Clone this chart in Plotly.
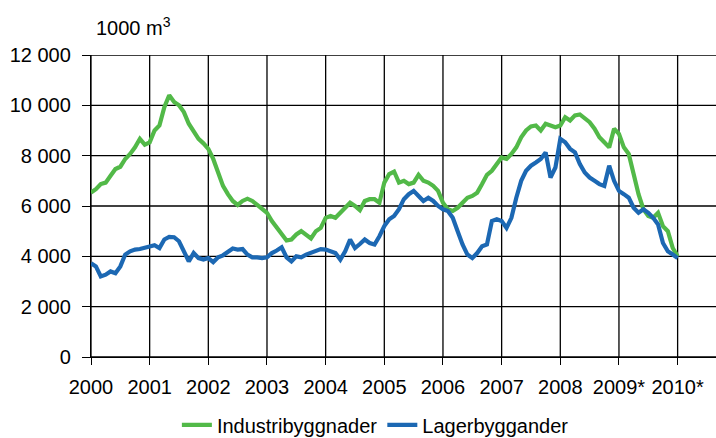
import plotly.graph_objects as go

# Monthly values, January 2000 .. January 2010 (1000 m3)
industri = [
    6530, 6670, 6870, 6930, 7200, 7470, 7560, 7870, 8070, 8330, 8670, 8440,
    8530, 9000, 9200, 9930, 10400, 10130, 10000, 9730, 9270, 9000, 8670, 8490,
    8270, 7870, 7330, 6800, 6470, 6200, 6040, 6200, 6290, 6200, 6040, 5870,
    5730, 5400, 5130, 4870, 4630, 4670, 4870, 5000, 4870, 4710, 5000, 5130,
    5530, 5600, 5530, 5730, 5930, 6130, 6000, 5830, 6200, 6270, 6270, 6130,
    6930, 7270, 7370, 6930, 7000, 6870, 6930, 7240, 7000, 6930, 6800, 6600,
    6130, 5870, 5800, 5930, 6130, 6330, 6400, 6530, 6870, 7240, 7400, 7670,
    7930, 7870, 8070, 8330, 8730, 9000, 9160, 9200, 9000, 9270, 9200, 9130,
    9200, 9530, 9400, 9600, 9640, 9470, 9330, 9070, 8730, 8530, 8330, 9070,
    8870, 8330, 8070, 7270, 6470, 5870, 5600, 5530, 5730, 5200, 5000, 4330,
    4000,
]
lager = [
    3730, 3600, 3200, 3270, 3400, 3330, 3600, 4070, 4200, 4270, 4290, 4330,
    4360, 4440, 4330, 4670, 4770, 4760, 4600, 4200, 3800, 4130, 3930, 3870,
    3930, 3770, 3960, 4040, 4200, 4310, 4270, 4290, 4070, 3960, 3960, 3930,
    3960, 4130, 4230, 4360, 3960, 3800, 4000, 3960, 4070, 4130, 4200, 4290,
    4270, 4200, 4130, 3870, 4200, 4670, 4330, 4490, 4670, 4530, 4470, 4800,
    5200, 5470, 5600, 5870, 6270, 6470, 6600, 6400, 6200, 6330, 6200, 6000,
    5870, 5800, 5530, 5000, 4470, 4070, 3930, 4130, 4400, 4470, 5400, 5470,
    5400, 5130, 5530, 6330, 7000, 7400, 7600, 7730, 7870, 8130, 7130, 7530,
    8670, 8530, 8270, 8130, 7670, 7330, 7130, 7000, 6870, 6800, 7600, 7000,
    6600, 6470, 6330, 5930, 5730, 5870, 5730, 5530, 5270, 4530, 4200, 4070,
    3930,
]
months = list(range(len(industri)))

year_labels = ["2000", "2001", "2002", "2003", "2004", "2005", "2006",
               "2007", "2008", "2009*", "2010*"]
year_pos = [12 * i for i in range(len(year_labels))]
y_vals = [0, 2000, 4000, 6000, 8000, 10000, 12000]
y_labels = ["0", "2 000", "4 000", "6 000", "8 000", "10 000", "12 000"]

FONT = "Liberation Sans, Arial, sans-serif"
GRID = "black"

fig = go.Figure()
fig.add_trace(go.Scatter(x=months, y=industri, mode="lines",
                         name="Industribyggnader",
                         line=dict(color="#52B948", width=4.2)))
fig.add_trace(go.Scatter(x=months, y=lager, mode="lines",
                         name="Lagerbyggander",
                         line=dict(color="#1C68B3", width=4.2)))

# grid lines placed at the axis tick values
shapes = []
for xv in year_pos:
    shapes.append(dict(type="line", xref="x", yref="paper", x0=xv, x1=xv,
                       y0=0, y1=1, layer="below",
                       line=dict(color=GRID, width=1.3)))
for yv in y_vals:
    shapes.append(dict(type="line", xref="paper", yref="y", x0=0, x1=1,
                       y0=yv, y1=yv, layer="below",
                       line=dict(color=GRID, width=1.3)))

fig.update_layout(
    template="none",
    width=716, height=438,
    margin=dict(l=91, r=0, t=55, b=81, autoexpand=False),
    paper_bgcolor="white", plot_bgcolor="white",
    font=dict(family=FONT, size=20, color="#000"),
    showlegend=True,
    shapes=shapes,
    legend=dict(orientation="h", x=0.455, xanchor="center", y=-0.225,
                yanchor="middle", font=dict(size=20), itemwidth=30,
                bgcolor="rgba(0,0,0,0)"),
    annotations=[dict(text="1000 m<sup>3</sup>", xref="paper", yref="paper",
                      x=0.0048, y=1.095, xanchor="left", yanchor="middle",
                      showarrow=False, font=dict(size=20))],
)
fig.update_xaxes(range=[0, 127.85], tickmode="array", tickvals=year_pos,
                 ticktext=year_labels, showgrid=False,
                 ticks="outside", ticklen=7, tickwidth=1.3,
                 tickcolor=GRID, showline=True, linecolor=GRID,
                 linewidth=1.3, zeroline=False, automargin=False,
                 ticklabelstandoff=5, tickfont=dict(size=20))
fig.update_yaxes(range=[0, 12000], tickmode="array", tickvals=y_vals,
                 ticktext=y_labels, showgrid=False,
                 ticks="outside", ticklen=8, tickwidth=1.3,
                 tickcolor=GRID, showline=True, linecolor=GRID,
                 linewidth=1.3, zeroline=False, automargin=False,
                 ticklabelstandoff=7, tickfont=dict(size=20))

fig.write_html("out.html", config={"displayModeBar": False},
               post_script="document.body.style.margin='0';")
